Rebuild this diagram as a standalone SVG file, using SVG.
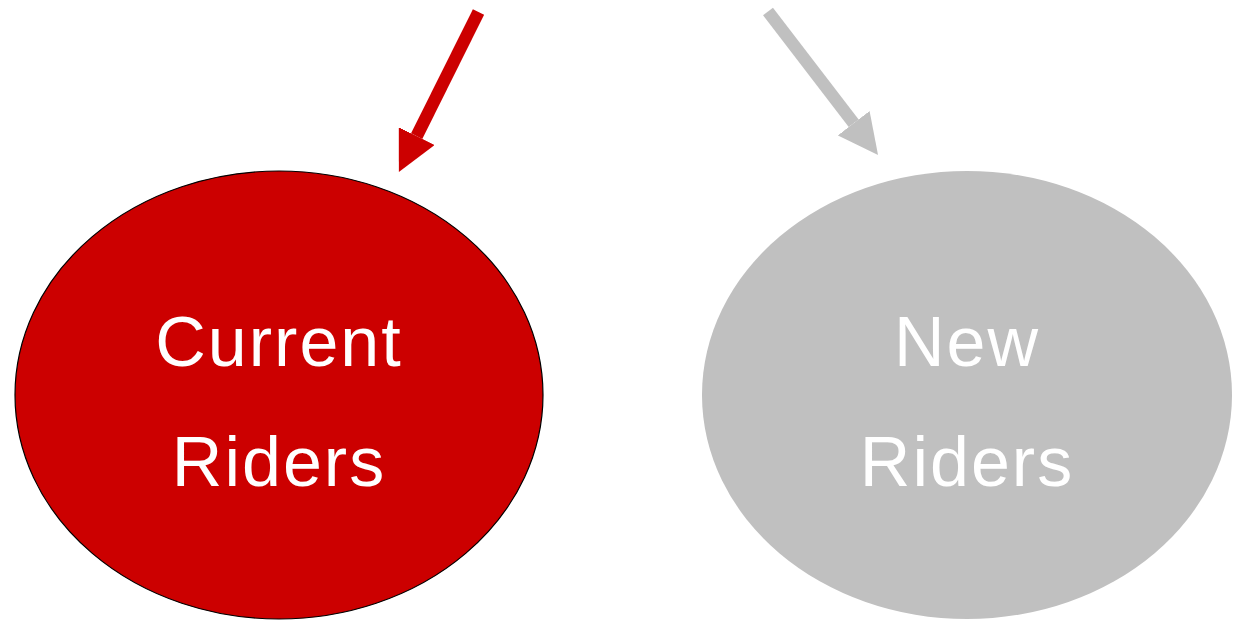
<svg xmlns="http://www.w3.org/2000/svg" width="1235" height="620" viewBox="0 0 1235 620">
<style>
.lbl{font-family:"Liberation Sans",Arial,sans-serif;font-size:70px;fill:#FFFFFF;text-anchor:middle;letter-spacing:2px}
</style>
<defs>
<marker id="hRed" markerUnits="userSpaceOnUse" viewBox="0 0 40 40" markerWidth="40" markerHeight="40" refX="0" refY="20" orient="auto"><path d="M0,0 L40,20 L0,40 Z" fill="#CC0000"/></marker>
<marker id="hGray" markerUnits="userSpaceOnUse" viewBox="0 0 40 40" markerWidth="40" markerHeight="40" refX="0" refY="20" orient="auto"><path d="M0,0 L40,20 L0,40 Z" fill="#C0C0C0"/></marker>
</defs>
<rect width="1235" height="620" fill="#FFFFFF"/>
<g id="current-riders">
<ellipse cx="279" cy="395" rx="264" ry="224" fill="#CC0000" stroke="#000000" stroke-width="1.2"/>
<text class="lbl" x="279" y="366">Current</text>
<text class="lbl" x="279" y="486">Riders</text>
</g>
<g id="new-riders">
<ellipse cx="967" cy="395" rx="265" ry="224" fill="#C0C0C0"/>
<text class="lbl" x="967" y="366">New</text>
<text class="lbl" x="967" y="486">Riders</text>
</g>
<g id="connectors">
<line x1="478.5" y1="12" x2="416.7" y2="136.1" stroke="#CC0000" stroke-width="12.5" marker-end="url(#hRed)"/>
<line x1="768" y1="11.5" x2="853.7" y2="123.2" stroke="#C0C0C0" stroke-width="12.5" marker-end="url(#hGray)"/>
</g>
</svg>
